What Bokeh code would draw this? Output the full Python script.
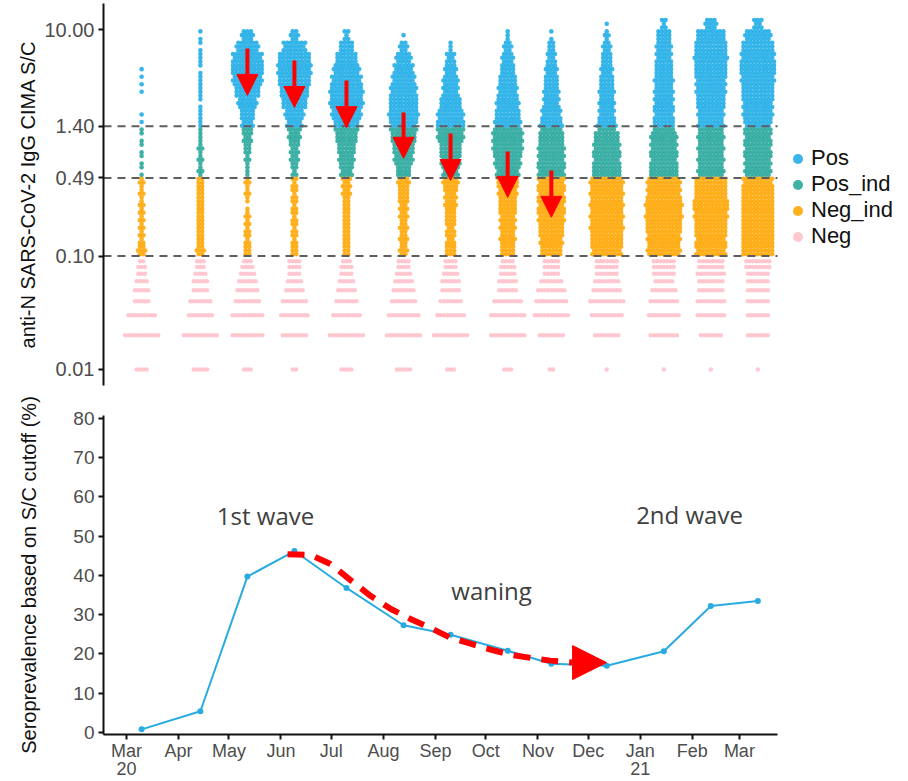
import datetime as dt
from bokeh.plotting import figure
from bokeh.layouts import column
from bokeh.models import (Range1d, FixedTicker, Arrow, NormalHead, Legend,
                          LegendItem, Label, ColumnDataSource)
from bokeh.embed import file_html
from bokeh.resources import INLINE

# ---------------- data ----------------
ORIGIN = dt.date(2020, 3, 1)
sample_dates = ["2020-03-10", "2020-04-14", "2020-05-12", "2020-06-09", "2020-07-10",
                "2020-08-13", "2020-09-10", "2020-10-14", "2020-11-09", "2020-12-12",
                "2021-01-15", "2021-02-12", "2021-03-12"]
seroprevalence = [0.8, 5.4, 39.7, 46.2, 36.8, 27.3, 24.9, 20.8, 17.5, 17.0, 20.7, 32.2, 33.5]

month_ticks = ["2020-03-01", "2020-04-01", "2020-05-01", "2020-06-01", "2020-07-01",
               "2020-08-01", "2020-09-01", "2020-10-01", "2020-11-01", "2020-12-01",
               "2021-01-01", "2021-02-01", "2021-03-01"]
month_labels = ["Mar\n20", "Apr", "May", "Jun", "Jul", "Aug", "Sep", "Oct", "Nov", "Dec",
                "Jan\n21", "Feb", "Mar"]

sc_ticks = [0.01, 0.1, 0.49, 1.4, 10.0]
sc_tick_labels = ["0.01", "0.10", "0.49", "1.40", "10.00"]
cutoffs = [0.1, 0.49, 1.4]
categories = ["Pos", "Pos_ind", "Neg_ind", "Neg"]
cat_colors = ["#1CACE6", "#26A69A", "#FFA500", "#FFC0CB"]

# S/C values below 0.1 are reported in steps of 0.01: number of samples at each value
neg_values = [0.01, 0.02, 0.03, 0.04, 0.05, 0.06, 0.07, 0.08, 0.09]
neg_counts = [
    [4, 11, 9, 5, 5, 4, 3, 3, 2],
    [5, 11, 8, 7, 5, 5, 4, 3, 3],
    [3, 10, 10, 8, 7, 6, 5, 4, 3],
    [2, 8, 9, 8, 6, 5, 4, 4, 4],
    [4, 11, 9, 7, 6, 5, 4, 4, 3],
    [5, 11, 10, 8, 7, 6, 5, 4, 4],
    [3, 11, 9, 7, 6, 6, 5, 4, 4],
    [3, 11, 11, 9, 6, 6, 5, 5, 4],
    [2, 8, 11, 10, 9, 7, 5, 5, 5],
    [1, 8, 10, 11, 9, 8, 7, 7, 7],
    [1, 9, 10, 9, 8, 6, 7, 7, 7],
    [1, 7, 9, 9, 8, 8, 9, 8, 8],
    [1, 7, 7, 7, 7, 7, 7, 8, 8],
]

# S/C values >= 0.1: sample counts per 0.1-wide log10 bin, from log10 = -1.0 upward (21 bins)
swarm_log_start = -1.0
swarm_log_step = 0.1
swarm_counts = [
    [7, 5, 4, 5, 4, 4, 4, 2, 2, 2, 2, 2, 1, 0, 1, 2, 1, 0, 0, 0, 0],
    [7, 6, 6, 6, 6, 6, 6, 4, 4, 4, 3, 3, 3, 2, 3, 3, 2, 3, 2, 2, 0],
    [6, 5, 5, 4, 2, 4, 4, 3, 4, 6, 8, 10, 12, 16, 21, 25, 27, 26, 19, 10, 0],
    [6, 5, 5, 5, 5, 5, 5, 5, 7, 8, 10, 13, 16, 21, 24, 27, 29, 27, 20, 7, 0],
    [6, 6, 6, 6, 6, 7, 8, 11, 13, 15, 18, 21, 25, 28, 28, 26, 22, 18, 12, 5, 0],
    [7, 7, 7, 7, 8, 9, 10, 12, 16, 18, 21, 23, 25, 24, 23, 20, 17, 13, 7, 1, 0],
    [9, 8, 8, 9, 10, 11, 13, 14, 17, 18, 22, 24, 22, 18, 14, 13, 10, 8, 3, 0, 0],
    [12, 13, 13, 14, 15, 16, 18, 20, 23, 25, 26, 23, 21, 19, 17, 15, 12, 10, 7, 3, 0],
    [18, 20, 21, 23, 23, 23, 23, 23, 23, 22, 21, 19, 17, 14, 13, 12, 10, 8, 6, 2, 0],
    [26, 27, 28, 28, 28, 28, 28, 24, 23, 23, 21, 16, 14, 13, 13, 12, 10, 9, 7, 4, 1],
    [28, 28, 30, 31, 31, 29, 28, 24, 23, 23, 22, 18, 17, 17, 16, 16, 15, 14, 13, 12, 5],
    [26, 26, 27, 28, 30, 27, 27, 22, 22, 22, 22, 22, 22, 24, 25, 26, 27, 28, 27, 24, 10],
    [27, 27, 27, 27, 27, 27, 26, 22, 23, 23, 23, 23, 25, 26, 27, 28, 30, 29, 27, 22, 8],
]

# annotation arrows in the dot plot (sample index, S/C from, S/C to)
arrow_month_idx = [2, 3, 4, 5, 6, 7, 8]
arrow_from = [6.8, 5.33, 3.55, 1.85, 1.21, 0.84, 0.57]
arrow_to = [2.62, 2.05, 1.36, 0.73, 0.465, 0.33, 0.22]

# "waning" trend curve (days since 1 Mar 2020, %)
waning_days = [95.9, 109.6, 121.5, 133.4, 145.3, 157.2, 169.1, 181.1, 193.0, 204.9,
               216.8, 228.7, 240.6, 252.5, 265.6]
waning_pct = [45.4, 45.2, 42.9, 38.8, 34.8, 31.5, 28.9, 26.6, 24.1, 22.6,
              21.1, 19.8, 19.0, 18.3, 17.8]
waning_tip = (285.9, 17.8)

wave_texts = ["1st wave", "waning", "2nd wave"]
wave_x = [82.8, 217.4, 335.3]
wave_y = [55.3, 36.1, 55.4]


def days(s):
    return (dt.date.fromisoformat(s) - ORIGIN).days


sample_days = [days(s) for s in sample_dates]
tick_days = [days(s) for s in month_ticks]

# ---------------- layout constants ----------------
FRAME_W = 674                      # width of the data area (axis length)
X0, X1 = -13.7, 387.7
PX_PER_DAY = FRAME_W / (X1 - X0)
FONT = "Liberation Sans"
TICK_C = "#4D4D4D"
LEFT = 103
TOTAL_W = 908
FULL_FRAME_W = TOTAL_W - LEFT      # frame also hosts the legend area
X1_FULL = X0 + FULL_FRAME_W / PX_PER_DAY

# ---------------- top: dot plot ----------------
top = figure(width=TOTAL_W, height=393, x_range=Range1d(X0, X1_FULL),
             y_range=Range1d(10 ** -2.1421, 10 ** 1.2295), y_axis_type="log",
             output_backend="svg", toolbar_location=None, x_axis_location=None,
             min_border_left=LEFT, min_border_right=0, min_border_top=3,
             min_border_bottom=8)


def category(v):
    if v >= cutoffs[2]:
        return 0
    if v >= cutoffs[1]:
        return 1
    if v >= cutoffs[0]:
        return 2
    return 3


pts = [dict(x=[], y=[]) for _ in categories]
sp = 3.6 / PX_PER_DAY
sp_neg = 3.3 / PX_PER_DAY
rows = 3
for ci, d in enumerate(sample_days):
    for b, n in enumerate(swarm_counts[ci]):
        lo = swarm_log_start + b * swarm_log_step
        for k in range(rows):
            m = round(n * (k + 1) / rows) - round(n * k / rows)
            yv = 10 ** (lo + (k + 0.5) * swarm_log_step / rows)
            c = category(yv)
            for i in range(m):
                pts[c]["x"].append(d + (i - (m - 1) / 2) * sp)
                pts[c]["y"].append(yv)
    for v, n in zip(neg_values, neg_counts[ci]):
        for i in range(n):
            pts[3]["x"].append(d + (i - (n - 1) / 2) * sp_neg)
            pts[3]["y"].append(v)

renderers = []
for c, name in enumerate(categories):
    size = 4.5 if c == 3 else 4.6
    r = top.scatter(pts[c]["x"], pts[c]["y"], size=size, fill_color=cat_colors[c],
                    line_color=None, fill_alpha=0.88, marker="circle")
    renderers.append(r)

# dashed cut-off lines across the data area only
top.segment(x0=[X0] * len(cutoffs), x1=[X1] * len(cutoffs), y0=cutoffs, y1=cutoffs,
            line_color="#5E5E5E", line_width=2, line_dash="8 6")

asrc = ColumnDataSource(dict(
    x=[sample_days[i] for i in arrow_month_idx], y0=arrow_from, y1=arrow_to))
top.add_layout(Arrow(source=asrc, x_start="x", y_start="y0", x_end="x", y_end="y1",
                     line_color="red", line_width=4,
                     end=NormalHead(size=21, fill_color="red", line_color="red",
                                    line_width=1)))

top.yaxis.ticker = FixedTicker(ticks=sc_ticks)
top.yaxis.major_label_overrides = {t: l for t, l in zip(sc_ticks, sc_tick_labels)}
top.yaxis.axis_label = "anti-N SARS-CoV-2 IgG CIMA S/C"

legend = Legend(items=[LegendItem(label=n, renderers=[r]) for n, r in zip(categories, renderers)],
                location=(682, 136), orientation="vertical",
                glyph_width=25, glyph_height=25, label_height=25, label_standoff=1,
                spacing=0, padding=0, margin=0, border_line_alpha=0,
                background_fill_alpha=0, label_text_font=FONT,
                label_text_font_size="22px", label_text_color="#111111")
top.add_layout(legend)

# ---------------- bottom: seroprevalence ----------------
bot = figure(width=TOTAL_W, height=388, x_range=Range1d(X0, X1_FULL),
             y_range=Range1d(-0.51, 80.71),
             output_backend="svg", toolbar_location=None,
             min_border_left=LEFT, min_border_right=0, min_border_top=22,
             min_border_bottom=46)
LINE_C = "#29ABE2"
bot.line(sample_days, seroprevalence, line_color=LINE_C, line_width=2)
bot.scatter(sample_days, seroprevalence, size=6, fill_color=LINE_C, line_color=None)

bot.line(waning_days, waning_pct, line_color="#FF0000", line_width=6, line_dash="17 11")
bot.add_layout(Arrow(x_start=waning_days[-1], y_start=waning_pct[-1],
                     x_end=waning_tip[0], y_end=waning_tip[1],
                     line_alpha=0, line_width=0,
                     end=NormalHead(size=34, fill_color="#FF0000", line_color="#FF0000")))

for t, xx, yy in zip(wave_texts, wave_x, wave_y):
    bot.add_layout(Label(x=xx, y=yy, text=t, text_align="center",
                         text_baseline="alphabetic", text_font="Open Sans",
                         text_font_size="24px", text_color="#404040"))

bot.xaxis.ticker = FixedTicker(ticks=tick_days)
bot.xaxis.bounds = (X0, X1)
bot.xaxis.major_label_overrides = {d: l for d, l in zip(tick_days, month_labels)}
bot.yaxis.ticker = FixedTicker(ticks=[0, 10, 20, 30, 40, 50, 60, 70, 80])
bot.yaxis.axis_label = "Seroprevalence based on S/C cutoff (%)"

# ---------------- shared styling ----------------
for p in (top, bot):
    p.grid.visible = False
    p.outline_line_color = None
    p.background_fill_color = "white"
    p.border_fill_color = "white"
    for ax in p.axis:
        ax.axis_line_color = "#111111"
        ax.axis_line_width = 2
        ax.major_tick_line_color = "#111111"
        ax.major_tick_line_width = 2
        ax.major_tick_out = 5
        ax.major_tick_in = 0
        ax.minor_tick_line_color = None
        ax.major_label_text_font = FONT
        ax.major_label_text_color = TICK_C
        ax.major_label_standoff = 4
        ax.axis_label_text_font = FONT
        ax.axis_label_text_font_size = "20px"
        ax.axis_label_text_font_style = "normal"
        ax.axis_label_text_color = "#111111"

top.yaxis.major_label_text_font_size = "20px"
top.yaxis.axis_label_standoff = 2
bot.yaxis.major_label_text_font_size = "19px"
bot.yaxis.axis_label_standoff = 30
bot.xaxis.major_label_text_font_size = "18px"
bot.xaxis.major_label_text_line_height = 0.9
bot.xaxis.major_label_standoff = 1

layout = column(top, bot, spacing=0)
open("out.html", "w").write(file_html(layout, INLINE))
